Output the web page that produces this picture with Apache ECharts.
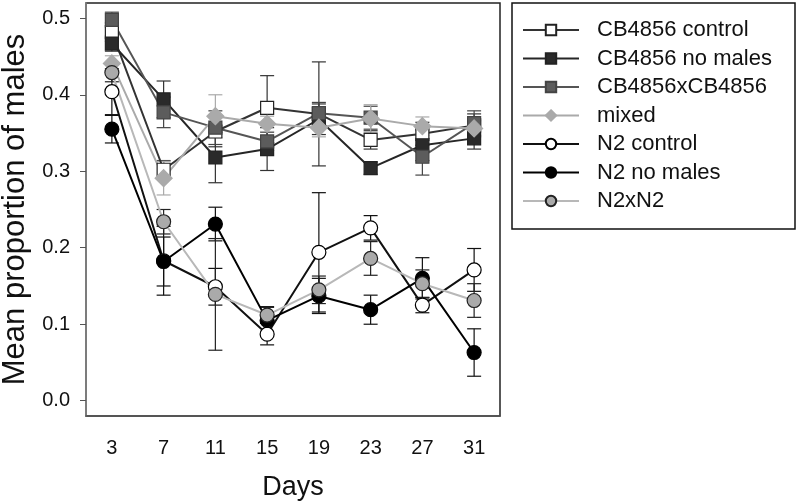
<!DOCTYPE html>
<html>
<head>
<meta charset="utf-8">
<script src="https://cdn.jsdelivr.net/npm/echarts@6/dist/echarts.min.js"></script>
<style>
  html, body { margin: 0; padding: 0; background: #fff; }
  #myChart { width: 797px; height: 503px; }
</style>
</head>
<body>
<div id="myChart"></div>
<script>
// days on the x axis
const days = ["3", "7", "11", "15", "19", "23", "27", "31"];
const yTicks = [0, 0.1, 0.2, 0.3, 0.4, 0.5];

// mean proportion of males, one array per treatment
const cbControl = [0.482, 0.302, 0.352, 0.383, 0.375, 0.341, 0.349, 0.360];
const cbNoMales = [0.467, 0.394, 0.318, 0.329, 0.368, 0.304, 0.334, 0.343];
const cbxcb = [0.498, 0.377, 0.357, 0.339, 0.376, 0.370, 0.319, 0.363];
const mixed = [0.441, 0.291, 0.372, 0.362, 0.357, 0.369, 0.359, 0.356];
const n2Control = [0.404, 0.183, 0.149, 0.087, 0.194, 0.226, 0.125, 0.171];
const n2NoMales = [0.355, 0.182, 0.231, 0.105, 0.137, 0.119, 0.160, 0.063];
const n2xn2 = [0.429, 0.234, 0.139, 0.112, 0.145, 0.186, 0.153, 0.131];

// standard errors (half length of the error bars)
const cbControlErr = [0.012, 0.012, 0.02, 0.042, 0.068, 0.012, 0.015, 0.015];
const cbNoMalesErr = [0.01, 0.024, 0.033, 0.028, 0.02, 0.008, 0.02, 0.014];
const cbxcbErr = [0.01, 0.02, 0.022, 0.012, 0.014, 0.015, 0.024, 0.016];
const mixedErr = [0.01, 0.022, 0.028, 0.01, 0.012, 0.018, 0.012, 0.01];
const n2ControlErr = [0.03, 0.045, 0.024, 0.014, 0.078, 0.016, 0.01, 0.028];
const n2NoMalesErr = [0.018, 0.032, 0.022, 0.018, 0.023, 0.019, 0.027, 0.031];
const n2xn2Err = [0.012, 0.016, 0.073, 0.01, 0.018, 0.022, 0.018, 0.022];

const groups = [
  { name: "CB4856 control", data: cbControl, err: cbControlErr, symbol: "rect", size: 13, line: "#333", fill: "#fff", border: "#222", bar: "#333" },
  { name: "CB4856 no males", data: cbNoMales, err: cbNoMalesErr, symbol: "rect", size: 13, line: "#262626", fill: "#2a2a2a", border: "#222", bar: "#333" },
  { name: "CB4856xCB4856", data: cbxcb, err: cbxcbErr, symbol: "rect", size: 13, line: "#555", fill: "#5c5c5c", border: "#444", bar: "#444" },
  { name: "mixed", data: mixed, err: mixedErr, symbol: "diamond", size: 17, line: "#aaa", fill: "#aaa", border: "#aaa", bar: "#aaa" },
  { name: "N2 control", data: n2Control, err: n2ControlErr, symbol: "circle", size: 14, line: "#111", fill: "#fff", border: "#000", bar: "#111" },
  { name: "N2 no males", data: n2NoMales, err: n2NoMalesErr, symbol: "circle", size: 14, line: "#000", fill: "#000", border: "#000", bar: "#111" },
  { name: "N2xN2", data: n2xn2, err: n2xn2Err, symbol: "circle", size: 14, line: "#b8b8b8", fill: "#aaa", border: "#222", bar: "#222" },
];

function errorBars(color) {
  return function (params, api) {
    const top = api.coord([api.value(0), api.value(2)]);
    const bot = api.coord([api.value(0), api.value(1)]);
    const w = 7;
    const style = { stroke: color, lineWidth: 1.2 };
    return {
      type: "group",
      children: [
        { type: "line", shape: { x1: top[0], y1: top[1], x2: bot[0], y2: bot[1] }, style: style },
        { type: "line", shape: { x1: top[0] - w, y1: top[1], x2: top[0] + w, y2: top[1] }, style: style },
        { type: "line", shape: { x1: bot[0] - w, y1: bot[1], x2: bot[0] + w, y2: bot[1] }, style: style },
      ],
    };
  };
}

let series = [];
groups.forEach(function (g) {
  series.push({
    type: "custom",
    name: g.name + " err",
    renderItem: errorBars(g.bar),
    data: g.data.map(function (v, i) { return [i, v - g.err[i], v + g.err[i]]; }),
    z: 2,
    silent: true,
  });
});
groups.forEach(function (g) {
  series.push({
    type: "line",
    name: g.name,
    data: g.data,
    symbol: g.symbol,
    symbolSize: g.size,
    showAllSymbol: true,
    lineStyle: { color: g.line, width: 2 },
    itemStyle: { color: g.fill, borderColor: g.border, borderWidth: 1.2 },
    emphasis: { disabled: true },
    z: 3,
  });
});

let myChart = echarts.init(document.getElementById("myChart"), null, { renderer: "canvas" });
myChart.setOption({
  animation: false,
  textStyle: { fontFamily: "Liberation Sans, Arial, sans-serif" },
  grid: {
    left: 86,
    right: 297,
    top: 3,
    bottom: 87,
    show: true,
    borderColor: "#222",
    borderWidth: 1.5,
    containLabel: false,
    outerBoundsMode: "none",
  },
  legend: {
    data: groups.map(function (g) { return g.name; }),
    orient: "vertical",
    left: 517,
    top: 14,
    itemWidth: 56,
    itemHeight: 13,
    itemGap: 6.5,
    textStyle: { fontSize: 22, color: "#111", padding: [0, 0, 0, 13] },
    selectedMode: false,
  },
  graphic: [
    {
      type: "rect",
      shape: { x: 512, y: 3, width: 283, height: 226 },
      style: { fill: "none", stroke: "#111", lineWidth: 1.5 },
    },
  ],
  xAxis: {
    type: "category",
    data: days,
    boundaryGap: true,
    name: "Days",
    nameLocation: "middle",
    nameGap: 58,
    nameTextStyle: { fontSize: 27, color: "#111" },
    axisLine: { onZero: false, lineStyle: { color: "#555", width: 1.5 } },
    axisTick: { alignWithLabel: true, length: 6, lineStyle: { color: "#555" } },
    axisLabel: { fontSize: 20, color: "#111", margin: 22 },
    splitLine: { show: false },
  },
  yAxis: {
    type: "value",
    min: -0.02,
    max: 0.52,
    name: "Mean proportion of males",
    nameLocation: "middle",
    nameGap: 51,
    nameTextStyle: { fontSize: 31, color: "#111" },
    axisLine: { show: true, onZero: false, lineStyle: { color: "#888", width: 1.5 } },
    axisTick: { show: true, length: 6, customValues: yTicks, lineStyle: { color: "#555" } },
    axisLabel: {
      fontSize: 20,
      color: "#111",
      margin: 16,
      customValues: yTicks,
      formatter: function (v) { return v.toFixed(1); },
    },
    splitLine: { show: false },
  },
  series: series,
});
</script>
</body>
</html>
